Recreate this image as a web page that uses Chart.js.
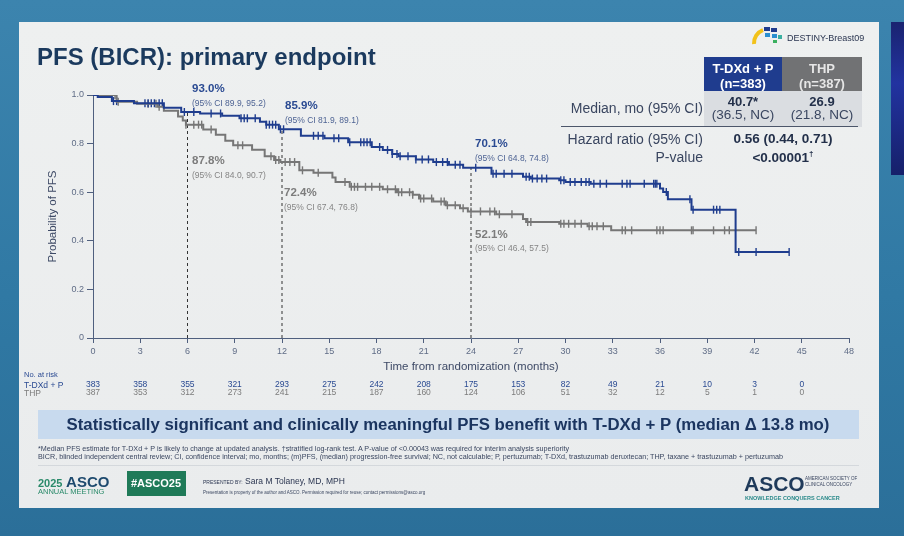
<!DOCTYPE html>
<html>
<head>
<meta charset="utf-8">
<script src="https://cdn.jsdelivr.net/npm/chart.js@4.4.0/dist/chart.umd.min.js"></script>
<style>
body{margin:0;width:904px;height:536px;overflow:hidden;position:relative;font-family:"Liberation Sans",Arial,sans-serif;background:linear-gradient(180deg,#3c84ae 0%,#3079a4 55%,#2b6f99 100%)}
.slide{position:absolute;left:19px;top:22px;width:860px;height:486px;background:linear-gradient(180deg,#eef0f0,#eaeced)}
.side{position:absolute;left:891px;top:22px;width:13px;height:153px;background:linear-gradient(180deg,#1a2370,#2233a0 40%,#16206a)}
.box{position:absolute}
#wrap{position:absolute;left:0;top:0}
.t{position:absolute;white-space:nowrap;line-height:1;transform:translateY(-50%)}
.c{transform:translate(-50%,-50%)}
.nb{font-family:"Liberation Sans Narrow","Liberation Sans",Arial,sans-serif}
</style>
</head>
<body>
<div class="slide"></div>
<div class="side"></div>

<!-- table backgrounds -->
<div class="box" style="left:704px;top:57px;width:78px;height:34px;background:#1f3c8e"></div>
<div class="box" style="left:782px;top:57px;width:80px;height:34px;background:#717274"></div>
<div class="box" style="left:704px;top:91px;width:158px;height:36px;background:#dadde1"></div>
<div class="box" style="left:561px;top:126px;width:297px;height:1px;background:#4c566a"></div>

<!-- banner -->
<div class="box" style="left:38px;top:410px;width:821px;height:29px;background:#c8daee"></div>
<div class="box" style="left:38px;top:465px;width:821px;height:1px;background:#d4d8dc"></div>
<div class="box" style="left:127px;top:471px;width:59px;height:25px;background:#1f7a58"></div>

<div id="wrap"><canvas id="km" width="904" height="536"></canvas></div>

<div class="t" style="left:37px;top:57px;font-size:24px;font-weight:bold;color:#1b3a5e">PFS (BICR): primary endpoint</div>

<svg style="position:absolute;left:751px;top:25px" width="34" height="20" viewBox="0 0 34 20">
  <path d="M3 19 A14 14 0 0 1 12 5" stroke="#f2c21a" stroke-width="4" fill="none"/>
  <rect x="13" y="2" width="6" height="4" fill="#1f3c8e"/>
  <rect x="20" y="3" width="6" height="4" fill="#1f3c8e"/>
  <rect x="14" y="8" width="5" height="4" fill="#2a8fd0"/>
  <rect x="21" y="9" width="5" height="4" fill="#2a8fd0"/>
  <rect x="27" y="10" width="4" height="4" fill="#3bb0a0"/>
  <rect x="22" y="15" width="4" height="3" fill="#3bb060"/>
</svg>
<div class="t" style="left:787px;top:38px;font-size:9px;color:#2a3550">DESTINY-Breast09</div>

<!-- table text -->
<div class="t c" style="left:743px;top:68px;font-size:13px;font-weight:bold;color:#fff">T-DXd + P</div>
<div class="t c" style="left:743px;top:83px;font-size:13px;font-weight:bold;color:#fff">(n=383)</div>
<div class="t c" style="left:822px;top:68px;font-size:13px;font-weight:bold;color:#e6e6e6">THP</div>
<div class="t c" style="left:822px;top:83px;font-size:13px;font-weight:bold;color:#e6e6e6">(n=387)</div>
<div class="t c" style="left:743px;top:101px;font-size:13px;font-weight:bold;color:#23304a">40.7*</div>
<div class="t c" style="left:743px;top:115px;font-size:13.5px;color:#3a4660">(36.5, NC)</div>
<div class="t c" style="left:822px;top:101px;font-size:13px;font-weight:bold;color:#23304a">26.9</div>
<div class="t c" style="left:822px;top:115px;font-size:13.5px;color:#3a4660">(21.8, NC)</div>
<div class="t" style="right:201px;top:108px;font-size:14px;color:#3a4660">Median, mo (95% CI)</div>
<div class="t" style="right:201px;top:139px;font-size:14px;color:#3a4660">Hazard ratio (95% CI)</div>
<div class="t" style="right:201px;top:157px;font-size:14px;color:#3a4660">P-value</div>
<div class="t c" style="left:783px;top:139px;font-size:13.5px;font-weight:bold;color:#23304a">0.56 (0.44, 0.71)</div>
<div class="t c" style="left:783px;top:157px;font-size:13.5px;font-weight:bold;color:#23304a">&lt;0.00001<sup style="font-size:8px">†</sup></div>

<!-- landmark labels -->
<div class="t" style="left:192px;top:89px;font-size:11.5px;font-weight:bold;color:#2a4a92">93.0%</div>
<div class="t" style="left:192px;top:103px;font-size:8.5px;color:#4f6494">(95% CI 89.9, 95.2)</div>
<div class="t" style="left:285px;top:106px;font-size:11.5px;font-weight:bold;color:#2a4a92">85.9%</div>
<div class="t" style="left:285px;top:120px;font-size:8.5px;color:#4f6494">(95% CI 81.9, 89.1)</div>
<div class="t" style="left:475px;top:144px;font-size:11.5px;font-weight:bold;color:#2a4a92">70.1%</div>
<div class="t" style="left:475px;top:158px;font-size:8.5px;color:#4f6494">(95% CI 64.8, 74.8)</div>
<div class="t" style="left:192px;top:161px;font-size:11.5px;font-weight:bold;color:#7c7c7c">87.8%</div>
<div class="t" style="left:192px;top:175px;font-size:8.5px;color:#858585">(95% CI 84.0, 90.7)</div>
<div class="t" style="left:284px;top:193px;font-size:11.5px;font-weight:bold;color:#7c7c7c">72.4%</div>
<div class="t" style="left:284px;top:207px;font-size:8.5px;color:#858585">(95% CI 67.4, 76.8)</div>
<div class="t" style="left:475px;top:235px;font-size:11.5px;font-weight:bold;color:#7c7c7c">52.1%</div>
<div class="t" style="left:475px;top:248px;font-size:8.5px;color:#858585">(95% CI 46.4, 57.5)</div>

<!-- at risk labels -->
<div class="t nb" style="left:24px;top:375px;font-size:7.5px;color:#2a4a92">No. at risk</div>
<div class="t nb" style="left:24px;top:385px;font-size:8.5px;color:#2a4a92">T-DXd + P</div>
<div class="t nb" style="left:24px;top:393px;font-size:8.5px;color:#7c7c7c">THP</div>

<div class="t c" style="left:448px;top:425px;font-size:16.8px;font-weight:bold;color:#1b3560">Statistically significant and clinically meaningful PFS benefit with T-DXd + P (median Δ 13.8 mo)</div>
<div class="t nb" style="left:38px;top:449px;font-size:7.2px;color:#3a4660">*Median PFS estimate for T-DXd + P is likely to change at updated analysis. †stratified log-rank test. A P-value of &lt;0.00043 was required for interim analysis superiority</div>
<div class="t nb" style="left:38px;top:457px;font-size:7.2px;color:#3a4660">BICR, blinded independent central review; CI, confidence interval; mo, months; (m)PFS, (median) progression-free survival; NC, not calculable; P, pertuzumab; T-DXd, trastuzumab deruxtecan; THP, taxane + trastuzumab + pertuzumab</div>

<div class="t" style="left:38px;top:481px;font-size:15px;font-weight:bold;color:#1e4a6e"><span style="font-size:11px;color:#2a8a6a">2025</span> ASCO</div>
<div class="t" style="left:38px;top:492px;font-size:7.5px;color:#2a8a6a">ANNUAL MEETING</div>
<div class="t c" style="left:156px;top:483px;font-size:11px;font-weight:bold;color:#fff">#ASCO25</div>
<div class="t nb" style="left:203px;top:481px;font-size:8.5px;color:#2a3550"><span style="font-size:5px">PRESENTED BY:</span> Sara M Tolaney, MD, MPH</div>
<div class="t nb" style="left:203px;top:493px;font-size:4.5px;color:#3a4660">Presentation is property of the author and ASCO. Permission required for reuse; contact permissions@asco.org</div>
<div class="t" style="left:744px;top:483px;font-size:21px;font-weight:bold;color:#1f3a5a">ASCO</div>
<div class="t nb" style="left:805px;top:479px;font-size:4.5px;color:#3a4660">AMERICAN SOCIETY OF</div>
<div class="t nb" style="left:805px;top:485px;font-size:4.5px;color:#3a4660">CLINICAL ONCOLOGY</div>
<div class="t" style="left:745px;top:499px;font-size:5.5px;font-weight:bold;color:#2a8a8a">KNOWLEDGE CONQUERS CANCER</div>

<script>
const blue = "#1f3d8e";
const gray = "#767676";
const axisColor = "#4f5f7e";
const tickColor = "#5f6c86";

// Kaplan-Meier steps: time (months) and survival after the step
const tdxdTimes = [0, 0.3, 1.2, 2.6, 4.5, 5.6, 6.8, 8.2, 9.3, 10.6, 11.0, 11.8, 13.2, 14.7, 16.2, 17.7, 18.4, 19.0, 19.4, 20.5, 21.6, 22.6, 23.5, 25.3, 27.3, 27.8, 29.6, 30.0, 31.6, 36.0, 36.2, 36.5, 38.0, 40.8, 44.2];
const tdxdSurv  = [1.0, 0.992, 0.975, 0.966, 0.948, 0.930, 0.924, 0.915, 0.904, 0.89, 0.878, 0.859, 0.832, 0.822, 0.806, 0.786, 0.774, 0.757, 0.748, 0.735, 0.724, 0.713, 0.701, 0.676, 0.664, 0.656, 0.649, 0.642, 0.635, 0.615, 0.601, 0.571, 0.528, 0.354, 0.354];

const thpTimes = [0, 1.5, 2.8, 4.1, 4.5, 5.4, 5.7, 5.9, 7.0, 7.8, 8.4, 8.9, 10.1, 10.9, 11.5, 11.9, 13.1, 14.0, 15.2, 15.4, 16.3, 18.4, 19.3, 20.3, 20.7, 21.6, 22.4, 23.3, 23.8, 25.6, 27.3, 27.5, 29.6, 31.4, 32.9, 42.1];
const thpSurv  = [1.0, 0.972, 0.964, 0.952, 0.935, 0.912, 0.895, 0.878, 0.858, 0.836, 0.812, 0.793, 0.775, 0.748, 0.732, 0.724, 0.69, 0.68, 0.66, 0.642, 0.622, 0.612, 0.60, 0.59, 0.574, 0.562, 0.546, 0.534, 0.521, 0.509, 0.49, 0.477, 0.47, 0.46, 0.443, 0.443];

// censoring times (months)
const tdxdCensored = [1.3, 1.5, 3.3, 3.5, 3.7, 3.9, 4.2, 4.4, 5.8, 6.4, 7.5, 8.1, 9.4, 9.6, 9.8, 10.3, 11.0, 11.2, 11.4, 11.6, 11.9, 12.1, 14.0, 14.3, 14.6, 15.3, 15.6, 16.3, 17.0, 17.2, 17.4, 17.6, 18.2, 18.7, 19.0, 19.3, 19.5, 20.0, 20.5, 20.9, 21.3, 21.8, 22.2, 22.5, 23.0, 23.3, 24.3, 25.4, 25.6, 26.1, 26.6, 27.5, 27.7, 27.9, 28.2, 28.5, 28.8, 29.7, 29.9, 30.3, 30.6, 31.0, 31.3, 31.5, 31.8, 32.2, 32.6, 33.6, 33.9, 34.1, 35.0, 35.6, 35.7, 35.8, 36.4, 37.9, 38.1, 39.4, 39.6, 39.8, 41.0, 42.1, 44.2];
const thpCensored = [1.4, 1.6, 3.5, 4.0, 4.2, 5.9, 6.4, 6.7, 6.9, 7.5, 9.2, 9.5, 11.3, 11.6, 11.8, 12.2, 12.5, 12.8, 13.3, 14.3, 16.0, 16.4, 16.6, 16.8, 17.3, 17.7, 18.2, 18.7, 19.2, 19.4, 19.6, 20.1, 20.3, 20.8, 21.0, 21.5, 22.1, 22.3, 22.5, 23.0, 23.5, 24.0, 24.6, 25.2, 25.5, 25.8, 26.6, 27.6, 27.8, 29.7, 29.9, 30.2, 30.6, 31.0, 31.5, 31.7, 32.0, 32.4, 33.6, 33.8, 34.2, 35.8, 36.0, 36.2, 38.0, 38.1, 39.4, 40.1, 40.4, 42.1];

// landmark times and T-DXd + P values where dashed lines stop
const landmarkMonths = [6, 12, 24];
const landmarkTop = [0.930, 0.859, 0.701];

// number at risk
const riskMonths = [0, 3, 6, 9, 12, 15, 18, 21, 24, 27, 30, 33, 36, 39, 42, 45];
const atRiskTDXd = [383, 358, 355, 321, 293, 275, 242, 208, 175, 153, 82, 49, 21, 10, 3, 0];
const atRiskTHP  = [387, 353, 312, 273, 241, 215, 187, 160, 124, 106, 51, 32, 12, 5, 1, 0];

function steps(times, surv) {
  return times.map((t, i) => ({x: t, y: surv[i]}));
}

function survAt(times, surv, t) {
  let v = surv[0];
  for (let i = 0; i < times.length; i++) {
    if (times[i] <= t) v = surv[i];
  }
  return v;
}

function censorPoints(cens, times, surv) {
  return cens.map(t => ({x: t, y: survAt(times, surv, t)}));
}

const datasets = [
  {
    label: "T-DXd + P",
    data: steps(tdxdTimes, tdxdSurv),
    borderColor: blue, borderWidth: 2, stepped: "before", pointRadius: 0,
  },
  {
    label: "THP",
    data: steps(thpTimes, thpSurv),
    borderColor: gray, borderWidth: 2, stepped: "before", pointRadius: 0,
  },
  {
    label: "T-DXd + P censored",
    data: censorPoints(tdxdCensored, tdxdTimes, tdxdSurv),
    showLine: false, pointStyle: "line", rotation: 90, pointRadius: 4,
    borderColor: blue, pointBorderWidth: 1.4,
  },
  {
    label: "THP censored",
    data: censorPoints(thpCensored, thpTimes, thpSurv),
    showLine: false, pointStyle: "line", rotation: 90, pointRadius: 4,
    borderColor: gray, pointBorderWidth: 1.4,
  },
];

landmarkMonths.forEach((m, i) => {
  datasets.push({
    label: "landmark " + m,
    data: [{x: m, y: 0}, {x: m, y: landmarkTop[i]}],
    borderColor: "#333", borderWidth: 1, borderDash: [3, 3], pointRadius: 0,
  });
});

// number-at-risk rows under the x axis
const atRiskPlugin = {
  id: "atRisk",
  afterDraw(chart) {
    const ctx = chart.ctx;
    const x = chart.scales.x;
    ctx.save();
    ctx.font = '8.5px "Liberation Sans Narrow", "Liberation Sans", Arial';
    ctx.textAlign = "center";
    ctx.textBaseline = "middle";
    riskMonths.forEach((m, i) => {
      ctx.fillStyle = "#2a4a92";
      ctx.fillText(atRiskTDXd[i], x.getPixelForValue(m), 385);
      ctx.fillStyle = "#7c7c7c";
      ctx.fillText(atRiskTHP[i], x.getPixelForValue(m), 393);
    });
    ctx.restore();
  }
};

const config = {
  type: "line",
  data: {datasets: datasets},
  options: {
    responsive: false,
    animation: false,
    layout: {padding: {left: 40, top: 95, right: 55, bottom: 162}},
    plugins: {
      legend: {display: false},
      tooltip: {enabled: false},
    },
    scales: {
      x: {
        type: "linear", min: 0, max: 48,
        ticks: {stepSize: 3, color: tickColor, font: {size: 9}, padding: 3, maxRotation: 0},
        grid: {drawOnChartArea: false, tickLength: 5, color: axisColor},
        border: {color: axisColor},
        title: {display: true, text: "Time from randomization (months)", color: "#3e4a66",
                font: {size: 11.5}, padding: {top: 0, bottom: 0}},
        afterFit: s => { s.height = 36; },
      },
      y: {
        min: 0, max: 1,
        ticks: {stepSize: 0.2, color: tickColor, font: {size: 9}, padding: 3,
                callback: v => v === 0 ? "0" : v.toFixed(1)},
        grid: {drawOnChartArea: false, tickLength: 6, color: axisColor},
        border: {color: axisColor},
        title: {display: true, text: "Probability of PFS", color: "#3e4a66",
                font: {size: 11.5}, padding: {top: 6, bottom: 0}},
        afterFit: s => { s.width = 53; },
      },
    },
  },
  plugins: [atRiskPlugin],
};

let myChart = new Chart(document.getElementById("km"), config);
</script>
</body>
</html>
